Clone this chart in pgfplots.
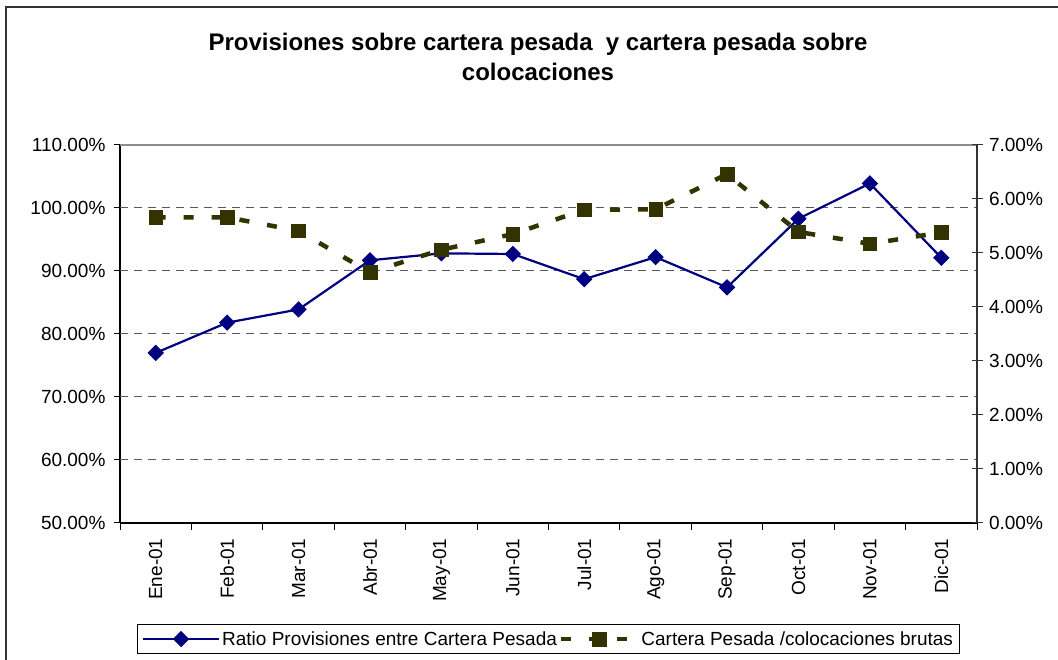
\documentclass[border=0pt]{standalone}
\usepackage{fontspec}
\setmainfont{Liberation Sans}
\usepackage{pgfplots}
\pgfplotsset{compat=1.18}
\definecolor{navyc}{RGB}{0,0,128}
\definecolor{olivec}{RGB}{51,51,0}
\pgfplotsset{
  basefont/.style={font=\fontsize{19}{22}\selectfont},
  every axis/.append style={basefont},
}
\begin{document}
\begin{tikzpicture}[x=1pt,y=1pt]
\useasboundingbox (0pt,0pt) rectangle (1058pt,660pt);
\fill[white] (0pt,0pt) rectangle (1058pt,660pt);
\draw[black!80, line width=1.2pt] (6pt,-5pt) -- (6pt,653pt) -- (1065pt,653pt);
\node[anchor=base, font=\fontsize{24}{30}\bfseries\selectfont] at (538pt,609pt) {Provisiones sobre cartera pesada\ \ y cartera pesada sobre};
\node[anchor=base, font=\fontsize{24}{30}\bfseries\selectfont] at (538pt,579pt) {colocaciones};

\begin{axis}[
  at={(120pt,137pt)}, anchor=south west, scale only axis,
  width=857pt, height=378pt,
  xmin=-0.5, xmax=11.5, ymin=50, ymax=110,
  axis x line*=bottom, axis y line*=left,
  axis line style={black, line width=1.3pt, -},
  tick align=outside,
  xtick={0,...,11},
  xticklabels={Ene-01,Feb-01,Mar-01,Abr-01,May-01,Jun-01,Jul-01,Ago-01,Sep-01,Oct-01,Nov-01,Dic-01},
  major x tick style={draw=none},
  minor xtick={-0.5,0.5,...,11.5},
  minor tick length=7pt,
  major tick length=6pt,
  every tick/.style={black, line width=1pt},
  xticklabel style={rotate=90, anchor=east},
  xticklabel shift=6pt,
  ytick={50,60,...,110},
  /pgf/number format/assume math mode=true,
  yticklabel={\pgfmathprintnumber[fixed,fixed zerofill,precision=2]{\tick}\%},
  yticklabel style={xshift=-5pt},
  extra y ticks={60,70,80,90,100},
  extra y tick labels={},
  extra y tick style={grid=major},
  grid style={dash pattern=on 8pt off 6pt, black!65, line width=1pt},
  clip=false,
]
\addplot[navyc, line width=2.2pt, mark=square*, mark size=4.7pt,
  mark options={rotate=45, solid, fill=navyc, draw=navyc}]
  coordinates {(0,77.0) (1,81.8) (2,83.9) (3,91.7) (4,92.8) (5,92.7)
               (6,88.7) (7,92.2) (8,87.4) (9,98.3) (10,103.9) (11,92.1)};
\draw[black!45, line width=1.5pt] (rel axis cs:0,1) -- (rel axis cs:1,1);
\end{axis}

\begin{axis}[
  at={(120pt,137pt)}, anchor=south west, scale only axis,
  width=857pt, height=378pt,
  xmin=-0.5, xmax=11.5, ymin=0, ymax=7,
  axis y line*=right, axis x line=none,
  axis line style={black!80, line width=1.3pt, -},
  tick align=center, major tick length=11pt,
  every tick/.style={black!80, line width=1pt},
  ytick={0,1,...,7},
  /pgf/number format/assume math mode=true,
  yticklabel={\pgfmathprintnumber[fixed,fixed zerofill,precision=2]{\tick}\%},
  yticklabel style={xshift=3pt},
  clip=false,
  legend style={at={(0.5,-0.267)}, anchor=north, legend columns=2,
    draw=black, line width=1pt, font=\fontsize{19}{22}\selectfont,
    inner xsep=4pt, inner ysep=5pt,
    /tikz/every even column/.append style={column sep=0pt}},
  legend cell align=left,
  legend image code/.code={\draw[#1, mark repeat=2, mark phase=2] plot coordinates {(0pt,0pt) (38pt,0pt) (76pt,0pt)};},
]
\addlegendimage{navyc, line width=2.2pt, mark=square*, mark size=4.7pt,
  mark options={rotate=45, solid, fill=navyc, draw=navyc}}
\addlegendentry{Ratio Provisiones entre Cartera Pesada}
\addplot[olivec, line width=4.5pt, dash pattern=on 10pt off 18pt, mark=square*, mark size=6.8pt,
  mark options={solid, fill=olivec, draw=olivec, line width=0.5pt}]
  coordinates {(0,5.66) (1,5.66) (2,5.41) (3,4.64) (4,5.06) (5,5.35)
               (6,5.80) (7,5.81) (8,6.46) (9,5.39) (10,5.17) (11,5.38)};
\addlegendentry{Cartera Pesada /colocaciones brutas}
\end{axis}
\end{tikzpicture}
\end{document}
